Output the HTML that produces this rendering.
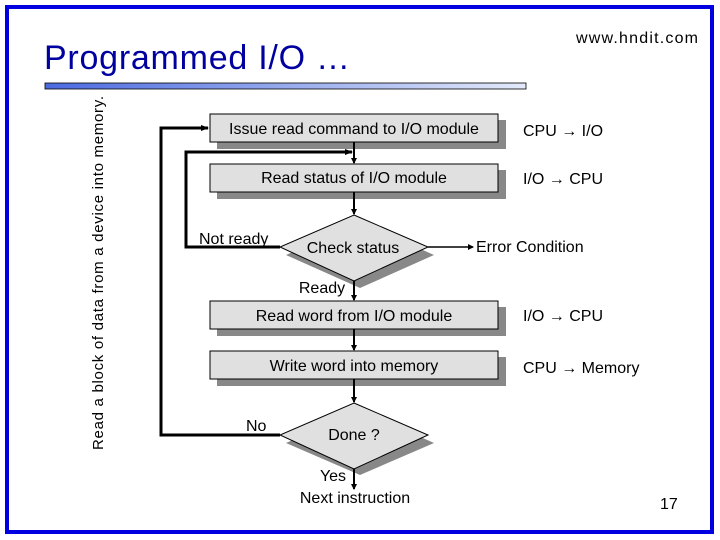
<!DOCTYPE html>
<html><head><meta charset="utf-8"><style>
html,body{margin:0;padding:0;background:#fff;}
svg{display:block;font-family:"Liberation Sans",Arial,sans-serif;}
</style></head><body>
<svg width="720" height="540" viewBox="0 0 720 540" xmlns="http://www.w3.org/2000/svg">
<defs>
<linearGradient id="g" x1="0" x2="1" y1="0" y2="0"><stop offset="0" stop-color="#4a6ae0"/><stop offset="1" stop-color="#e4eafa"/></linearGradient>
<marker id="a" markerWidth="6" markerHeight="6" refX="5" refY="3" orient="auto" markerUnits="userSpaceOnUse"><path d="M0,0 L6,3 L0,6 z" fill="#000"/></marker>
<marker id="s" markerWidth="8" markerHeight="6" refX="7" refY="3" orient="auto" markerUnits="userSpaceOnUse"><path d="M0,0 L8,3 L0,6 z" fill="#000"/></marker>
</defs>
<rect x="7" y="7" width="705" height="525" fill="none" stroke="#0000e0" stroke-width="4"/>
<text x="44" y="69" font-size="34" fill="#0000a0" textLength="306">Programmed I/O …</text>
<rect x="45" y="83" width="481" height="6" fill="url(#g)" stroke="#000" stroke-width="0.8"/>
<text x="576" y="43" font-size="16" fill="#000" textLength="122">www.hndit.com</text>
<text transform="translate(103,450) rotate(-90)" font-size="15" fill="#000" textLength="354">Read a block of data from a device into memory.</text>
<g fill="#888">
<rect x="217" y="120" width="289" height="29"/>
<rect x="217" y="170" width="289" height="29"/>
<rect x="217" y="307" width="289" height="29"/>
<rect x="217" y="357" width="289" height="29"/>
<polygon points="360,222 434,255 360,288 286,255"/>
<polygon points="360,410 434,443 360,475 286,443"/>
</g>
<g fill="#e0e0e0" stroke="#000" stroke-width="1">
<rect x="210" y="114" width="288" height="28"/>
<rect x="210" y="164" width="288" height="28"/>
<rect x="210" y="301" width="288" height="28"/>
<rect x="210" y="351" width="288" height="28"/>
<polygon points="354,215 428,247 354,281 280,247"/>
<polygon points="354,403 428,435 354,469 280,435"/>
</g>
<g font-size="16" fill="#000" text-anchor="middle">
<text x="354" y="134">Issue read command to I/O module</text>
<text x="354" y="183">Read status of I/O module</text>
<text x="354" y="321">Read word from I/O module</text>
<text x="354" y="371">Write word into memory</text>
<text x="353" y="253">Check status</text>
<text x="354" y="440">Done ?</text>
<text x="322" y="293">Ready</text>
<text x="333" y="481">Yes</text>
<text x="355" y="503">Next instruction</text>
</g>
<g font-size="16" fill="#000">
<text x="199" y="244">Not ready</text>
<text x="246" y="431">No</text>
<text x="476" y="252">Error Condition</text>
<text x="523" y="136">CPU → I/O</text>
<text x="523" y="184">I/O → CPU</text>
<text x="523" y="321">I/O → CPU</text>
<text x="523" y="373">CPU → Memory</text>
<text x="660" y="509">17</text>
</g>
<g stroke="#000" fill="none">
<path d="M354,142 V163" stroke-width="2" marker-end="url(#a)"/>
<path d="M354,192 V214" stroke-width="2" marker-end="url(#a)"/>
<path d="M354,281 V300" stroke-width="2" marker-end="url(#a)"/>
<path d="M354,329 V350" stroke-width="2" marker-end="url(#a)"/>
<path d="M354,379 V402" stroke-width="2" marker-end="url(#a)"/>
<path d="M354,469 V489" stroke-width="2" marker-end="url(#a)"/>
<path d="M280,247 H186 V152 H352" stroke-width="3" marker-end="url(#s)"/>
<path d="M280,435 H161 V128 H208" stroke-width="3" marker-end="url(#s)"/>
<path d="M428,247 H473" stroke-width="1.5" marker-end="url(#a)"/>
</g>
</svg>
</body></html>
